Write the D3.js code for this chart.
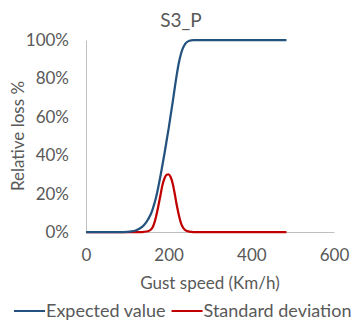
<!DOCTYPE html>
<html>
<head>
<meta charset="utf-8">
<script src="https://cdn.jsdelivr.net/npm/d3@7"></script>
<style>
  html, body { margin: 0; padding: 0; background: #fff; }
  svg text { font-family: Lato, "Open Sans", sans-serif; fill: #595959; }
</style>
</head>
<body>
<div id="chart"></div>
<script>
// -----------------------------
// DATA
// -----------------------------
const SPEEDS = [0, 20, 40, 60, 80, 100, 110, 120, 130, 140, 150, 160, 165, 170, 175, 180, 185, 190, 195, 200,
  205, 210, 215, 220, 225, 230, 235, 240, 250, 260, 270, 280, 300, 350, 400, 450, 485];
const EXPECTED = [0, 0, 0, 0, 0, 0.1, 0.3, 0.8, 1.8, 3.5, 6.5, 11, 14.5, 18.5, 23.5, 29, 35, 41, 47.5, 54,
  61, 68, 75.5, 82.5, 88.5, 93, 96, 98, 99.6, 100, 100, 100, 100, 100, 100, 100, 100];
const STD_DEV = [0, 0, 0, 0, 0, 0, 0, 0, 0, 0.1, 0.4, 2, 4.5, 8.5, 13.5, 19, 24.5, 28, 29.8, 30,
  28.5, 25, 19.5, 13.5, 8.5, 4.5, 2.2, 1, 0.2, 0, 0, 0, 0, 0, 0, 0, 0];
const X_TICKS = [0, 200, 400, 600];
const Y_TICKS = [0, 20, 40, 60, 80, 100];
const SERIES = [
  { name: "Expected value", values: EXPECTED, color: "#24527f" },
  { name: "Standard deviation", values: STD_DEV, color: "#c00000" }
];

// -----------------------------
// LAYOUT
// -----------------------------
const width = 354, height = 329;
const margin = { top: 40, right: 20, bottom: 97, left: 86 };
const innerW = 334 - margin.left;
const innerH = 232 - margin.top;
const FS = 17;

const svg = d3.select("#chart").append("svg")
  .attr("width", width)
  .attr("height", height);

const g = svg.append("g")
  .attr("transform", `translate(${margin.left},${margin.top})`);

const x = d3.scaleLinear().domain([0, 600]).range([0, innerW]);
const y = d3.scaleLinear().domain([0, 100]).range([innerH, 0]);

// Axes
const yAxis = g.append("g")
  .call(d3.axisLeft(y).tickValues(Y_TICKS).tickSize(0).tickPadding(17).tickFormat(d => d + "%"));
yAxis.select(".domain").attr("stroke", "#bfbfbf");
yAxis.selectAll("text").attr("font-size", FS).attr("font-family", null);

const xAxis = g.append("g")
  .attr("transform", `translate(0,${innerH})`)
  .call(d3.axisBottom(x).tickValues(X_TICKS).tickSize(0).tickPadding(17));
xAxis.select(".domain").attr("stroke", "#bfbfbf");
xAxis.selectAll("text").attr("font-size", FS).attr("font-family", null);

// Lines
const line = d3.line()
  .x((d, i) => x(SPEEDS[i]))
  .y(d => y(d))
  .curve(d3.curveMonotoneX);

SERIES.slice().reverse().forEach(s => {
  g.append("path")
    .datum(s.values)
    .attr("fill", "none")
    .attr("stroke", s.color)
    .attr("stroke-width", 2.25)
    .attr("d", line);
});

// Title & axis labels
svg.append("text")
  .attr("x", 181).attr("y", 27)
  .attr("text-anchor", "middle")
  .attr("font-size", 19)
  .text("S3_P");

svg.append("text")
  .attr("transform", `translate(24,${margin.top + innerH / 2}) rotate(-90)`)
  .attr("text-anchor", "middle")
  .attr("font-size", FS)
  .text("Relative loss %");

svg.append("text")
  .attr("x", margin.left + innerW / 2).attr("y", 289)
  .attr("text-anchor", "middle")
  .attr("font-size", FS)
  .text("Gust speed (Km/h)");

// Legend
const legend = svg.append("g").attr("transform", "translate(14,311)");
let lx = 0;
SERIES.forEach(s => {
  const item = legend.append("g").attr("transform", `translate(${lx},0)`);
  item.append("line")
    .attr("x1", 0).attr("x2", 31)
    .attr("stroke", s.color).attr("stroke-width", 2);
  const t = item.append("text")
    .attr("x", 32).attr("y", 6)
    .attr("font-size", 18)
    .text(s.name);
  lx += 32 + t.node().getComputedTextLength() + 6;
});
</script>
</body>
</html>
